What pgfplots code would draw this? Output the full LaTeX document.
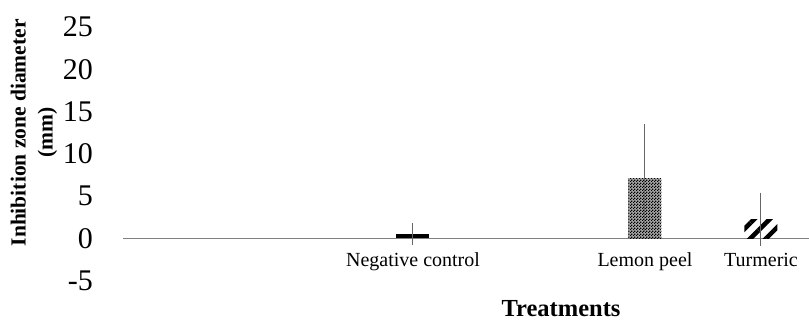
\documentclass[border=0pt]{standalone}
\usepackage{fontspec}
\setmainfont{Liberation Serif}
\usepackage{pgfplots}
\pgfplotsset{compat=1.18}
\usetikzlibrary{patterns,patterns.meta}
\pgfdeclarepatternformonly{finechecker}{\pgfpointorigin}{\pgfqpoint{3pt}{3pt}}{\pgfqpoint{3pt}{3pt}}{%
  \pgfpathrectangle{\pgfpointorigin}{\pgfqpoint{1.5pt}{1.5pt}}%
  \pgfpathrectangle{\pgfqpoint{1.5pt}{1.5pt}}{\pgfqpoint{1.5pt}{1.5pt}}%
  \pgfusepath{fill}}
\begin{document}
\begin{tikzpicture}
\begin{axis}[
  scale only axis, width=686pt, height=253.5pt,
  xmin=-0.5, xmax=5.414, ymin=-5, ymax=25,
  axis line style={draw=none},
  major tick length=0pt,
  ytick={-5,0,5,10,15,20,25},
  yticklabels={-5,0,5,10,15,20,25},
  yticklabel style={font=\fontsize{30}{30}\selectfont, anchor=east, inner sep=0pt, xshift=-30pt},
  xtick={2,4,5},
  xticklabels={Negative control, Lemon peel, Turmeric},
  xticklabel style={font=\fontsize{20}{20}\selectfont, anchor=base, inner sep=0pt, yshift=13.9pt},
  xlabel={Treatments},
  xlabel style={font=\fontsize{24.5}{24.5}\selectfont\bfseries, inner sep=0pt, at={(axis description cs:0.6385,0)}, anchor=base, yshift=-35.6pt},
  ylabel={Inhibition zone diameter\\(mm)},
  ylabel style={font=\fontsize{21.5}{27}\selectfont\bfseries, align=center, at={(axis description cs:-0.1297,0.583)}, anchor=center},
  ybar, bar width=33pt, bar shift=0pt,
  error bars/y dir=both, error bars/y explicit, error bars/error mark=none,
  error bars/error bar style={black!60, line width=1pt},
  clip=false,
]
\draw[gray, line width=1pt] (axis cs:-0.5,0) -- (axis cs:5.414,0);
\addplot[fill=black, draw=none] coordinates {(2,0.47) +- (0,1.31)};
\addplot[fill=black!35, draw=none, postaction={pattern=finechecker, pattern color=black}] coordinates {(4,7.14) +- (0,6.36)};
\addplot[pattern={Lines[angle=45,distance=11pt,line width=4.5pt]}, pattern color=black, draw=none] coordinates {(5,2.25) +- (0,3.15)};
\end{axis}
\pgfresetboundingbox
\path ([xshift=-123pt,yshift=-39.4pt]current axis.south west) rectangle ([yshift=27.1pt]current axis.north east);
\end{tikzpicture}
\end{document}
